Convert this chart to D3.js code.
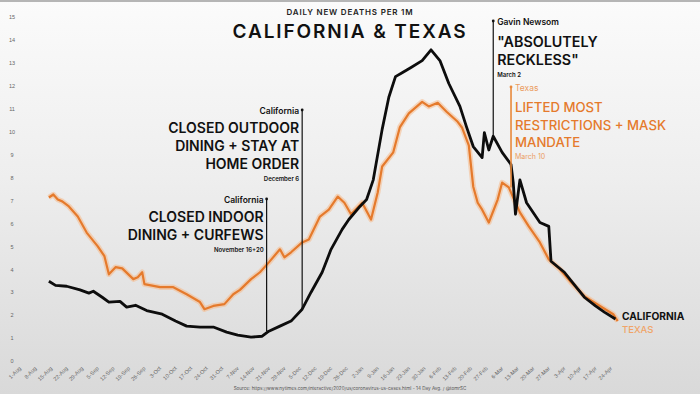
<!DOCTYPE html>
<html>
<head>
<meta charset="utf-8">
<script src="https://cdn.jsdelivr.net/npm/d3@7"></script>
<style>
  html, body { margin: 0; padding: 0; background: #fff; }
  svg { display: block; }
</style>
</head>
<body>
<div id="chart"></div>
<script>
// daily new deaths per 1M, 14 day avg
const california = [
  ["2020-08-14", 3.48], ["2020-08-17", 3.3], ["2020-08-22", 3.26], ["2020-08-28", 3.1],
  ["2020-09-01", 2.96], ["2020-09-03", 3.04], ["2020-09-07", 2.78], ["2020-09-10", 2.57],
  ["2020-09-15", 2.6], ["2020-09-18", 2.35], ["2020-09-22", 2.43], ["2020-09-27", 2.2],
  ["2020-10-04", 2.04], ["2020-10-10", 1.74], ["2020-10-15", 1.52], ["2020-10-21", 1.48],
  ["2020-10-27", 1.48], ["2020-11-02", 1.26], ["2020-11-07", 1.13], ["2020-11-13", 1.04],
  ["2020-11-18", 1.08], ["2020-11-21", 1.3], ["2020-11-26", 1.52], ["2020-12-01", 1.74],
  ["2020-12-06", 2.26], ["2020-12-10", 3.0], ["2020-12-15", 3.87], ["2020-12-19", 4.87],
  ["2020-12-24", 5.74], ["2020-12-27", 6.17], ["2021-01-01", 6.74], ["2021-01-04", 7.04],
  ["2021-01-07", 7.9], ["2021-01-11", 10.1], ["2021-01-14", 11.5], ["2021-01-17", 12.4],
  ["2021-01-20", 12.57], ["2021-01-24", 12.8], ["2021-01-29", 13.1], ["2021-02-02", 13.57],
  ["2021-02-06", 13.1], ["2021-02-10", 12.1], ["2021-02-15", 11.1], ["2021-02-18", 10.2],
  ["2021-02-21", 9.35], ["2021-02-25", 8.87], ["2021-02-26", 9.96], ["2021-02-28", 9.2],
  ["2021-03-02", 9.8], ["2021-03-06", 9.1], ["2021-03-10", 8.57], ["2021-03-11", 7.78],
  ["2021-03-12", 6.4], ["2021-03-14", 7.9], ["2021-03-17", 6.9], ["2021-03-23", 6.04],
  ["2021-03-27", 5.87], ["2021-03-28", 4.35], ["2021-04-03", 3.87], ["2021-04-08", 3.26],
  ["2021-04-12", 2.78], ["2021-04-17", 2.4], ["2021-04-21", 2.13], ["2021-04-26", 1.83]
]

const texas = [
  ["2020-08-14", 7.13], ["2020-08-16", 7.26], ["2020-08-18", 7.04], ["2020-08-20", 6.96],
  ["2020-08-23", 6.74], ["2020-08-27", 6.3], ["2020-08-31", 5.6], ["2020-09-05", 5.0],
  ["2020-09-08", 4.57], ["2020-09-10", 3.78], ["2020-09-13", 4.09], ["2020-09-16", 4.04],
  ["2020-09-21", 3.57], ["2020-09-23", 3.65], ["2020-09-25", 3.87], ["2020-09-26", 3.35],
  ["2020-10-03", 3.22], ["2020-10-09", 3.22], ["2020-10-15", 2.91], ["2020-10-21", 2.57],
  ["2020-10-23", 2.26], ["2020-10-27", 2.4], ["2020-11-01", 2.48], ["2020-11-05", 2.91],
  ["2020-11-08", 3.1], ["2020-11-13", 3.57], ["2020-11-17", 3.87], ["2020-11-21", 4.3],
  ["2020-11-26", 4.87], ["2020-11-28", 4.52], ["2020-12-01", 4.74], ["2020-12-06", 5.17],
  ["2020-12-09", 5.3], ["2020-12-14", 6.3], ["2020-12-18", 6.6], ["2020-12-22", 7.17],
  ["2020-12-25", 6.9], ["2020-12-28", 6.4], ["2021-01-02", 6.9], ["2021-01-06", 6.17],
  ["2021-01-09", 7.35], ["2021-01-11", 8.48], ["2021-01-16", 9.1], ["2021-01-19", 10.2],
  ["2021-01-23", 10.8], ["2021-01-29", 11.3], ["2021-02-01", 11.1], ["2021-02-05", 11.26],
  ["2021-02-09", 10.87], ["2021-02-14", 10.43], ["2021-02-16", 10.17], ["2021-02-19", 9.4],
  ["2021-02-21", 7.6], ["2021-02-23", 6.9], ["2021-02-25", 6.6], ["2021-02-28", 6.04],
  ["2021-03-04", 7.04], ["2021-03-06", 7.78], ["2021-03-09", 7.57], ["2021-03-12", 6.9],
  ["2021-03-14", 6.48], ["2021-03-18", 5.87], ["2021-03-23", 5.17], ["2021-03-27", 4.43],
  ["2021-04-01", 4.0], ["2021-04-06", 3.43], ["2021-04-12", 2.83], ["2021-04-19", 2.4],
  ["2021-04-25", 2.04], ["2021-04-27", 1.74]
]

const yTicks = d3.range(0, 16)
const xFirstTick = "2020-08-01"
const xLastTick = "2021-04-24"

// annotations: series, date of the marker, top of the marker line, texts
const notes = [
  {series: "ca", date: "2020-11-20", top: 199, side: "left",
   label: "California", head: ["CLOSED INDOOR", "DINING + CURFEWS"], sub: "November 16+20"},
  {series: "ca", date: "2020-12-06", top: 110, side: "left",
   label: "California", head: ["CLOSED OUTDOOR", "DINING + STAY AT", "HOME ORDER"], sub: "December 6"},
  {series: "ca", date: "2021-03-02", top: 21, side: "right",
   label: "Gavin Newsom", head: ["\"ABSOLUTELY", "RECKLESS\""], sub: "March 2"},
  {series: "tx", date: "2021-03-10", top: 87, side: "right",
   label: "Texas", head: ["LIFTED MOST", "RESTRICTIONS + MASK", "MANDATE"], sub: "March 10"}
]

const width = 700, height = 394
const parse = d3.utcParse("%Y-%m-%d")
const ORANGE = "#e57a2c"
const LIGHT_ORANGE = "#eb9c5f"
const HEAD_FONT = "Inter, 'Open Sans', sans-serif"

const rows = {
  ca: california.map(([d, v]) => ({date: parse(d), value: v})),
  tx: texas.map(([d, v]) => ({date: parse(d), value: v}))
}

const x = d3.scaleUtc([parse(xFirstTick), parse(xLastTick)], [20, 611])
const y = d3.scaleLinear([0, 15], [361, 17])

// spread letters so that a text gets a given width (the original font is wider)
const spreadTo = (text, w) => {
  const node = text.node()
  const len = node.getComputedTextLength()
  const n = node.textContent.length
  text.attr("letter-spacing", (w - len) / n)
}

const svg = d3.select("#chart").append("svg")
  .attr("width", width)
  .attr("height", height)
  .attr("font-family", HEAD_FONT)

const defs = svg.append("defs")
const bg = defs.append("linearGradient")
  .attr("id", "bg")
  .attr("x1", 0).attr("y1", 0).attr("x2", 0).attr("y2", 1)
bg.append("stop").attr("offset", "0%").attr("stop-color", "#fbfbfb")
bg.append("stop").attr("offset", "45%").attr("stop-color", "#eeeeee")
bg.append("stop").attr("offset", "100%").attr("stop-color", "#d9d9d9")

svg.append("rect")
  .attr("width", width).attr("height", height)
  .attr("fill", "url(#bg)")
svg.append("rect")
  .attr("width", width).attr("height", 2)
  .attr("fill", "#b5b5b5")

// axes
svg.append("g")
  .attr("transform", "translate(16,0)")
  .call(d3.axisLeft(y).tickValues(yTicks).tickSize(0).tickPadding(0))
  .call(g => g.select(".domain").remove())
  .call(g => g.selectAll("text")
    .attr("x", -4)
    .attr("text-anchor", "middle")
    .attr("fill", "#666")
    .attr("font-size", 5.5))

svg.append("g")
  .attr("transform", "translate(0,367)")
  .call(d3.axisBottom(x)
    .tickValues(d3.utcSaturday.range(parse(xFirstTick), d3.utcDay.offset(parse(xLastTick), 1)))
    .tickFormat(d3.utcFormat("%-d-%b"))
    .tickSize(0).tickPadding(0))
  .call(g => g.select(".domain").remove())
  .call(g => g.selectAll("text")
    .attr("y", 0).attr("dy", "0.35em").attr("dx", "-0.1em")
    .attr("transform", "rotate(-45)")
    .attr("text-anchor", "end")
    .attr("fill", "#666")
    .attr("font-size", 5.5))

svg.append("text")
  .attr("x", 350).attr("y", 390)
  .attr("text-anchor", "middle")
  .attr("font-size", 4.6)
  .attr("fill", "#555")
  .text("Source: https://www.nytimes.com/interactive/2020/us/coronavirus-us-cases.html - 14 Day Avg. / @tomrSC")

// lines
const line = d3.line()
  .x(d => x(d.date))
  .y(d => y(d.value))

const lines = svg.append("g").attr("fill", "none").attr("stroke-linejoin", "round")
lines.append("path")
  .attr("d", line(rows.tx))
  .attr("stroke", "#f6b98a")
  .attr("stroke-opacity", 0.55)
  .attr("stroke-width", 5.5)
lines.append("path")
  .attr("d", line(rows.tx))
  .attr("stroke", ORANGE)
  .attr("stroke-width", 2.2)
lines.append("path")
  .attr("d", line(rows.ca))
  .attr("stroke", "#0d0d0d")
  .attr("stroke-width", 2.8)

// value of a series at a date, from the nearest read point
const valueAt = (key, date) => {
  const data = rows[key]
  const i = d3.bisector(d => d.date).center(data, date)
  return data[i].value
}

// annotations
const noteG = svg.append("g")
for (const n of notes) {
  const date = parse(n.date)
  const xx = x(date)
  const isTx = n.series == "tx"
  const left = n.side == "left"
  const color = isTx ? "#e8893c" : "#111"
  const g = noteG.append("g")

  g.append("line")
    .attr("x1", xx).attr("x2", xx)
    .attr("y1", n.top).attr("y2", y(valueAt(n.series, date)))
    .attr("stroke", color)
    .attr("stroke-width", isTx ? 1.6 : 1.2)
  g.append("circle")
    .attr("cx", xx).attr("cy", n.top).attr("r", 1.4)
    .attr("fill", color)

  const tx = left ? xx - 3 : xx + 4
  const anchor = left ? "end" : "start"
  const bigSize = isTx ? 13.2 : (left ? 14 : 14.3)
  const lh = left ? 18 : (isTx ? 17.5 : 18)
  const first = n.top + 4 + (left ? 19 : (isTx ? 21 : 22))

  g.append("text")
    .attr("x", tx).attr("y", n.top + 4)
    .attr("text-anchor", anchor)
    .attr("font-size", 8.5)
    .attr("font-weight", isTx ? 400 : 600)
    .attr("fill", isTx ? LIGHT_ORANGE : "#111")
    .text(n.label)

  g.selectAll("text.head")
    .data(n.head)
    .join("text")
      .attr("class", "head")
      .attr("x", tx)
      .attr("y", (d, i) => first + i * lh)
      .attr("text-anchor", anchor)
      .attr("font-size", bigSize)
      .attr("font-weight", isTx ? 500 : 600)
      .attr("fill", isTx ? ORANGE : "#111")
      .text(d => d)

  g.append("text")
    .attr("x", tx)
    .attr("y", first + (n.head.length - 1) * lh + 12)
    .attr("text-anchor", anchor)
    .attr("font-size", isTx ? 7 : 6)
    .attr("font-weight", isTx ? 400 : 600)
    .attr("fill", isTx ? LIGHT_ORANGE : "#111")
    .text(n.sub)
}

// title
svg.append("text")
  .attr("x", 350).attr("y", 15)
  .attr("text-anchor", "middle")
  .attr("font-size", 8)
  .attr("font-weight", 600)
  .attr("fill", "#222")
  .text("DAILY NEW DEATHS PER 1M")
  .call(t => spreadTo(t, 127))

svg.append("text")
  .attr("x", 350).attr("y", 38)
  .attr("text-anchor", "middle")
  .attr("font-size", 19)
  .attr("font-weight", 600)
  .attr("fill", "#111")
  .text("CALIFORNIA & TEXAS")
  .call(t => spreadTo(t, 235))

// end labels
svg.append("text")
  .attr("x", 622).attr("y", 333)
  .attr("font-size", 9.5)
  .attr("font-weight", 500)
  .attr("fill", "#f0a468")
  .text("TEXAS")
svg.append("text")
  .attr("x", 622).attr("y", 320)
  .attr("font-size", 10.2)
  .attr("font-weight", 700)
  .attr("fill", "#111")
  .text("CALIFORNIA")
</script>
</body>
</html>
